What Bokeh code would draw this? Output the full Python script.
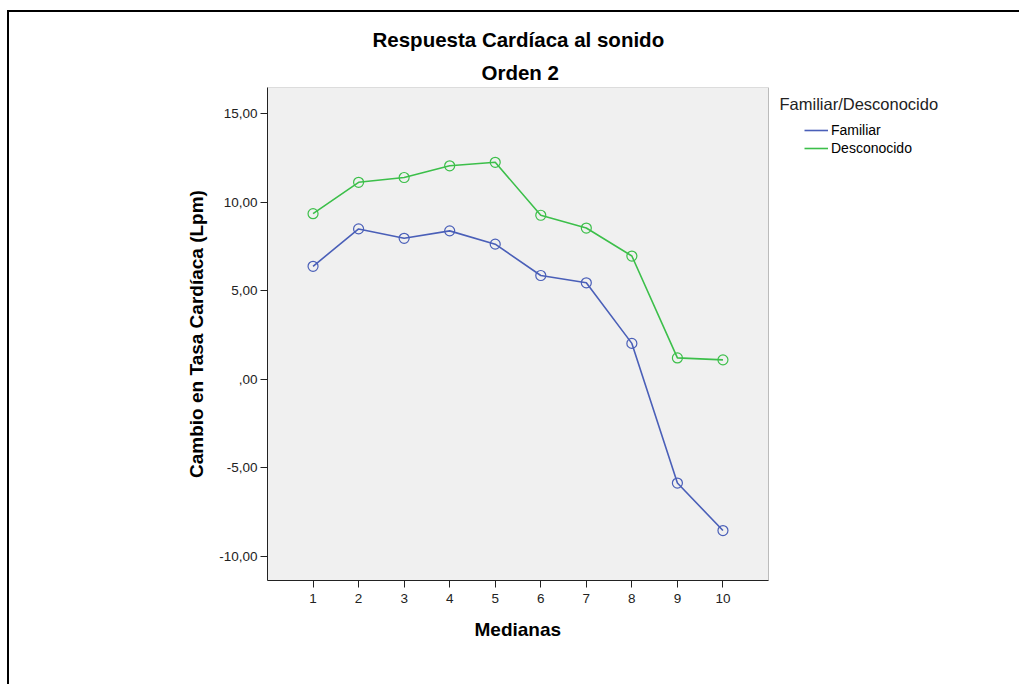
from bokeh.plotting import figure
from bokeh.models import Range1d, FixedTicker, Legend, LegendItem, Label, BoxAnnotation, Title
from bokeh.embed import file_html
from bokeh.resources import INLINE

# ---- data ----
medianas = [1, 2, 3, 4, 5, 6, 7, 8, 9, 10]
familiar = [6.38, 8.49, 7.96, 8.38, 7.63, 5.86, 5.45, 2.03, -5.85, -8.53]
desconocido = [9.35, 11.12, 11.39, 12.05, 12.25, 9.26, 8.54, 6.96, 1.21, 1.10]
series_names = ["Familiar", "Desconocido"]
legend_title = "Familiar/Desconocido"
title_lines = ["Respuesta Cardíaca al sonido", "Orden 2"]
x_title = "Medianas"
y_title = "Cambio en Tasa Cardíaca (Lpm)"
y_ticks = [-10, -5, 0, 5, 10, 15]
y_tick_labels = ["-10,00", "-5,00", ",00", "5,00", "10,00", "15,00"]
x_ticks = medianas
x_lo, x_hi = 0, 11          # plot-area extent (data)
y_lo, y_hi = -11.35, 16.47

BLUE = "#4a5fb8"
GREEN = "#3cbf4a"
FONT = "Liberation Sans"

# canvas geometry (canvas starts at page (9, 12) because of css border/margin)
W, H = 1012, 674
FL, FT, FB = 258, 75, 106
area_w = 501
px_x = (x_hi - x_lo) / area_w
x_end = x_lo + (W - FL) * px_x          # frame extends right to hold legend
area_h = H - FT - FB
px_y = (y_hi - y_lo) / area_h

def sx(px):   # page x -> data x
    return x_lo + (px - 267) * px_x

def sy(py):   # page y -> data y
    return y_lo + (580 - py) * px_y

p = figure(width=W, height=H, output_backend="svg", toolbar_location=None,
           x_range=Range1d(x_lo, x_end), y_range=Range1d(y_lo, y_hi),
           min_border_left=FL, min_border_top=FT, min_border_right=0,
           min_border_bottom=FB)
p.styles = {"margin-left": "7px", "margin-top": "10px",
            "border-left": "2px solid black", "border-top": "2px solid black"}

p.background_fill_color = "white"
p.border_fill_color = "white"
p.outline_line_color = None
p.grid.visible = False

# gray plot area
p.add_layout(BoxAnnotation(left=x_lo, right=x_hi, fill_color="#f0f0f0",
                           fill_alpha=1, line_color="#333333", line_width=1,
                           level="underlay"))

# titles (above, left-aligned with offset from the frame's left edge)
p.title.text = title_lines[0]
p.title.align = "left"
p.title.offset = 105
p.title.text_font = FONT
p.title.text_font_size = "20.5px"
p.title.text_font_style = "bold"
p.title.text_color = "black"
p.title.standoff = 8
p.add_layout(Title(text=title_lines[1], align="left", offset=214,
                   text_font=FONT, text_font_size="20.5px",
                   text_font_style="bold", text_color="black",
                   standoff=8), "above")

# axes
xa = p.xaxis[0]
xa.ticker = FixedTicker(ticks=x_ticks)
xa.bounds = (x_lo, x_hi)
ya = p.yaxis[0]
ya.ticker = FixedTicker(ticks=y_ticks)
ya.major_label_overrides = {t: l for t, l in zip(y_ticks, y_tick_labels)}
ya.axis_label = y_title
for ax in (xa, ya):
    ax.axis_line_color = "#222222"
    ax.major_tick_line_color = "#222222"
    ax.major_tick_in = 0
    ax.major_tick_out = 7
    ax.minor_tick_line_color = None
    ax.major_label_text_font = FONT
    ax.major_label_text_font_size = "13.5px"
    ax.major_label_text_color = "#222222"
    ax.axis_label_text_font = FONT
    ax.axis_label_text_font_size = "19px"
    ax.axis_label_text_font_style = "bold"
    ax.axis_label_text_color = "black"
xa.major_label_standoff = 6
ya.major_label_standoff = 3
ya.axis_label_standoff = 9
p.add_layout(Title(text=x_title, align="left", offset=207, text_font=FONT,
                   text_font_size="19px", text_font_style="bold",
                   text_color="black", standoff=22), "below")

# series
l1 = p.line(medianas, familiar, line_color=BLUE, line_width=1.6)
p.scatter(medianas, familiar, marker="circle", size=10, fill_color=None,
          line_color=BLUE, line_width=1.2)
l2 = p.line(medianas, desconocido, line_color=GREEN, line_width=1.6)
p.scatter(medianas, desconocido, marker="circle", size=10, fill_color=None,
          line_color=GREEN, line_width=1.2)

# legend
p.add_layout(Label(x=sx(779), y=sy(103), text=legend_title,
                   text_align="left", text_baseline="middle",
                   text_font=FONT, text_font_size="16.5px",
                   text_color="#222222"))
legend = Legend(items=[LegendItem(label=series_names[0], renderers=[l1]),
                       LegendItem(label=series_names[1], renderers=[l2])],
                location=(804 - 267, 580 - 157), margin=0, padding=0,
                spacing=0, glyph_width=24, glyph_height=18, label_height=18,
                label_standoff=3, label_text_font=FONT,
                label_text_font_size="14px", label_text_color="black",
                border_line_color=None, background_fill_alpha=0)
p.add_layout(legend)

open("out.html", "w").write(file_html(p, INLINE))
